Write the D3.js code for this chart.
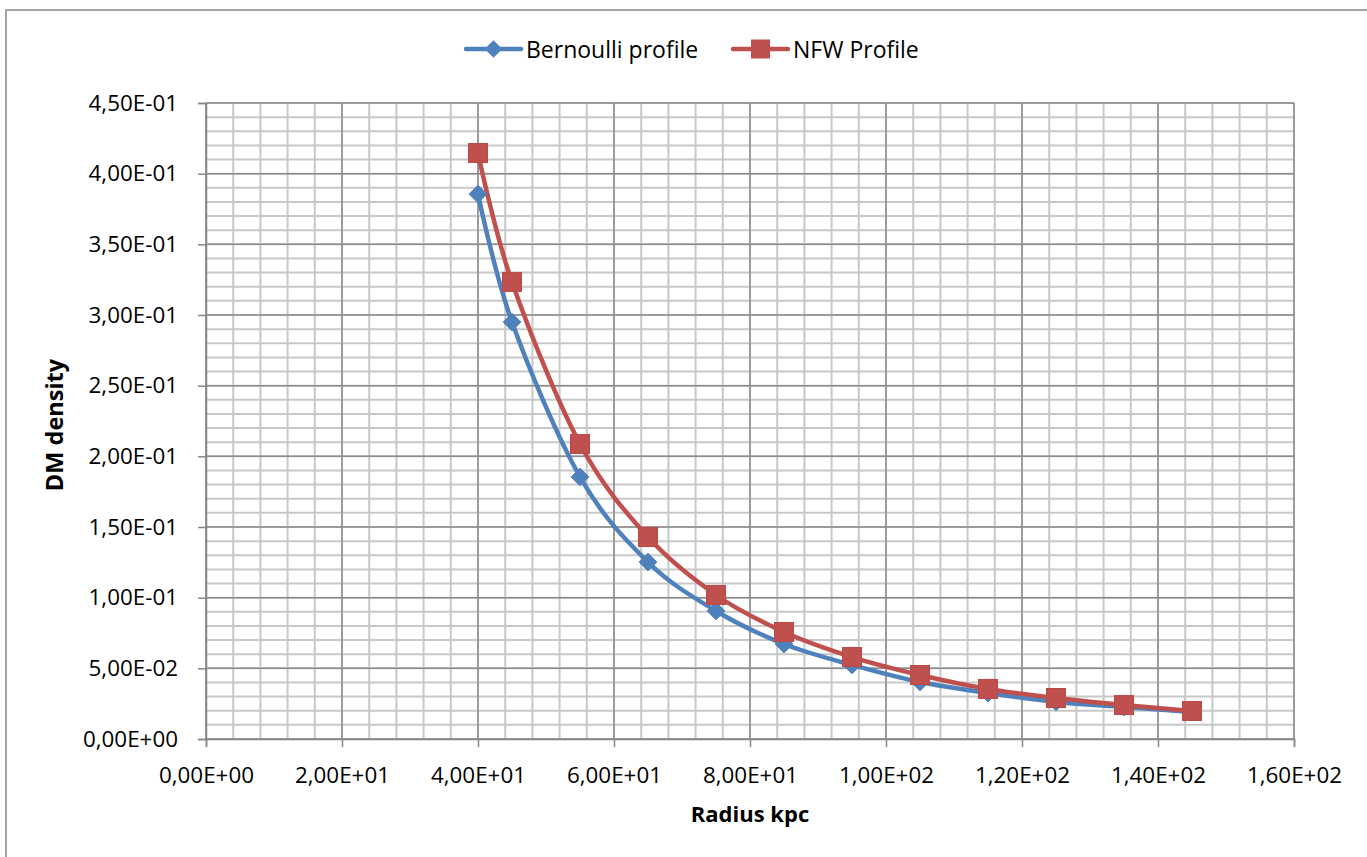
<!DOCTYPE html>
<html><head><meta charset="utf-8">
<script src="https://cdn.jsdelivr.net/npm/d3@7"></script>
<style>
body{margin:0;background:#fff;overflow:hidden;}
text{font-family:"Open Sans","Liberation Sans",sans-serif;fill:#000;}
</style></head>
<body>
<svg id="c" width="1367" height="857"></svg>
<script>
const radius = [40,45,55,65,75,85,95,105,115,125,135,145];
const bernoulli = [0.3856,0.295,0.1854,0.1252,0.0906,0.0672,0.0524,0.0403,0.0325,0.0262,0.0226,0.0191];
const nfw = [0.4146,0.3234,0.2087,0.1429,0.1019,0.0757,0.058,0.0453,0.0354,0.029,0.024,0.0198];
const xTicks = [0,20,40,60,80,100,120,140,160];
const yTicks = [0,0.05,0.1,0.15,0.2,0.25,0.3,0.35,0.4,0.45];
const seriesNames = ["Bernoulli profile","NFW Profile"];
const colors = ["#4F81BD","#C0504D"];

const svg = d3.select("#c");
svg.append("rect").attr("x",6).attr("y",10).attr("width",1400).attr("height",900)
  .attr("fill","#fff").attr("stroke","#888").attr("stroke-width",1.5);

const L=206, R=1294, T=103, B=739;
const x = d3.scaleLinear().domain([0,160]).range([L,R]);
const y = d3.scaleLinear().domain([0,0.45]).range([B,T]);

const fmt = v => {
  if (v===0) return "0,00E+00";
  const e = Math.floor(Math.log10(v)+1e-9);
  const m = v/Math.pow(10,e);
  const es = (e<0?"-":"+") + String(Math.abs(e)).padStart(2,"0");
  return m.toFixed(2).replace(".",",")+"E"+es;
};

const g = svg.append("g");
const xMinor = d3.range(0,160.01,4);
const yMinor = d3.range(0,0.4501,0.01);
g.selectAll(".xm").data(xMinor).enter().append("line")
  .attr("x1",d=>x(d)).attr("x2",d=>x(d)).attr("y1",T).attr("y2",B)
  .attr("stroke","#c8c8c8").attr("stroke-width",2);
g.selectAll(".ym").data(yMinor).enter().append("line")
  .attr("y1",d=>y(d)).attr("y2",d=>y(d)).attr("x1",L).attr("x2",R)
  .attr("stroke","#c8c8c8").attr("stroke-width",2);
g.selectAll(".xM").data(xTicks).enter().append("line")
  .attr("x1",d=>x(d)).attr("x2",d=>x(d)).attr("y1",T).attr("y2",B)
  .attr("stroke","#8c8c8c").attr("stroke-width",1.5);
g.selectAll(".yM").data(yTicks).enter().append("line")
  .attr("y1",d=>y(d)).attr("y2",d=>y(d)).attr("x1",L).attr("x2",R)
  .attr("stroke","#8c8c8c").attr("stroke-width",1.5);

const xAxis = d3.axisBottom(x).tickValues(xTicks).tickFormat(fmt).tickSize(8).tickPadding(19);
const yAxis = d3.axisLeft(y).tickValues(yTicks).tickFormat(fmt).tickSize(8).tickPadding(20);
const gx = svg.append("g").attr("transform",`translate(0,${B})`).call(xAxis);
const gy = svg.append("g").attr("transform",`translate(${L},0)`).call(yAxis);
[gx,gy].forEach(a=>{
  a.select(".domain").attr("stroke","#868686").attr("stroke-width",1.5);
  a.selectAll(".tick line").attr("stroke","#868686").attr("stroke-width",1.5);
  a.selectAll(".tick text").attr("font-size",22.4).attr("fill","#000")
    .style("font-family","'Open Sans',sans-serif");
});
gx.selectAll(".tick text").attr("dy","0.75em");

svg.append("text").attr("x",750).attr("y",822).attr("text-anchor","middle")
  .attr("font-size",22).attr("font-weight","bold").text("Radius kpc");
svg.append("text").attr("transform","translate(63,425) rotate(-90)").attr("text-anchor","middle")
  .attr("font-size",23.5).attr("font-weight","bold").text("DM density");

const data = [bernoulli,nfw];
const line = d3.line().x((d,i)=>x(radius[i])).y(d=>y(d)).curve(d3.curveCardinal.tension(0));
data.forEach((s,k)=>{
  svg.append("path").datum(s).attr("d",line).attr("fill","none")
    .attr("stroke",colors[k]).attr("stroke-width",4.5).attr("stroke-linejoin","round");
});
const diamond = d3.symbol().type(d3.symbolDiamond2).size(200);
svg.selectAll(".mb").data(bernoulli).enter().append("path")
  .attr("d",diamond).attr("transform",(d,i)=>`translate(${x(radius[i])},${y(d)})`)
  .attr("fill",colors[0]).attr("stroke",colors[0]).attr("stroke-width",1);
svg.selectAll(".mn").data(nfw).enter().append("rect")
  .attr("x",(d,i)=>x(radius[i])-9.5).attr("y",d=>y(d)-9.5).attr("width",19).attr("height",19)
  .attr("fill",colors[1]).attr("stroke","#b94a47").attr("stroke-width",1);

const lg = svg.append("g");
const legX = [466,733];
seriesNames.forEach((n,k)=>{
  lg.append("line").attr("x1",legX[k]).attr("x2",legX[k]+55).attr("y1",49).attr("y2",49)
    .attr("stroke",colors[k]).attr("stroke-width",4.5).attr("stroke-linecap","round");
  if(k===0){
    lg.append("path").attr("d",diamond).attr("transform",`translate(${legX[k]+27.5},49)`).attr("fill",colors[k]);
  } else {
    lg.append("rect").attr("x",legX[k]+27.5-9.5).attr("y",39.5).attr("width",19).attr("height",19).attr("fill",colors[k]);
  }
  lg.append("text").attr("x",legX[k]+60).attr("y",50).attr("dy","0.35em").attr("font-size",23).text(n);
});
</script>
</body></html>
